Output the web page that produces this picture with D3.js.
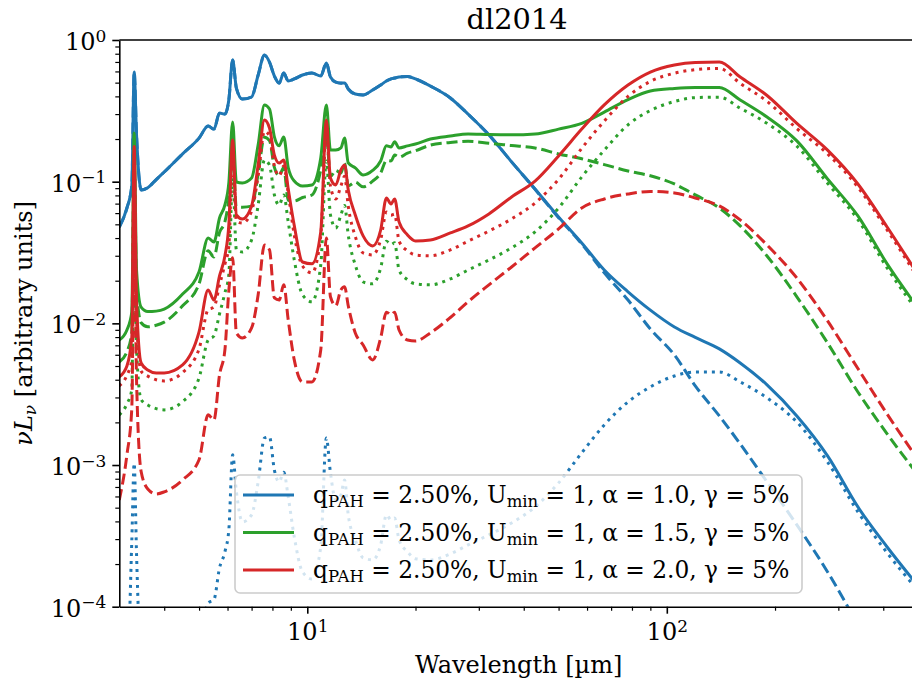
<!DOCTYPE html>
<html><head><meta charset="utf-8">
<script src="https://cdn.jsdelivr.net/npm/d3@7"></script>
<style>
body{margin:0;background:#fff}
svg{display:block}
text{font-family:"DejaVu Serif",serif;fill:#000;white-space:pre}
</style>
</head><body>
<svg id="chart" width="912" height="681"></svg>
<script>
// ---- data ----
const wavelength = [3.0,3.15,3.25,3.3,3.35,3.45,3.6,3.8,4.0,4.5,5.0,5.3,5.5,5.7,5.9,6.05,6.2,6.35,6.6,7.0,7.3,7.6,7.85,8.1,8.35,8.6,8.85,9.2,9.7,10.3,10.9,11.3,11.6,12.0,12.4,12.7,13.0,13.6,14.3,15.2,16.0,16.6,17.1,17.5,18.0,19,20,22,25,28,32,37,43,50,58,67,78,90,105,120,140,160,190,230,280,340,410,500];

const blueTotal = [0.0479,0.0652,0.0932,0.594,0.214,0.0874,0.0907,0.1035,0.117,0.157,0.203,0.247,0.235,0.305,0.300,0.377,0.723,0.458,0.383,0.396,0.566,0.784,0.699,0.557,0.497,0.585,0.514,0.531,0.566,0.585,0.557,0.688,0.548,0.505,0.497,0.497,0.451,0.416,0.409,0.444,0.481,0.514,0.531,0.539,0.548,0.553,0.531,0.473,0.390,0.300,0.214,0.138,0.0888,0.0564,0.0369,0.0238,0.0167,0.0124,0.00943,0.00795,0.0066,0.00525,0.00368,0.00222,0.00116,5.06e-4,2.64e-4,1.4e-4];
const blueDashed = [0.0479,0.0652,0.0932,0.593,0.214,0.0874,0.0907,0.1035,0.117,0.157,0.203,0.247,0.235,0.305,0.300,0.377,0.722,0.457,0.383,0.396,0.565,0.782,0.697,0.556,0.496,0.584,0.513,0.531,0.566,0.585,0.557,0.686,0.547,0.504,0.496,0.496,0.451,0.416,0.409,0.444,0.481,0.514,0.531,0.539,0.548,0.553,0.531,0.473,0.390,0.300,0.214,0.138,0.0883,0.0556,0.0363,0.0227,0.0146,0.00913,0.00598,0.00362,0.00222,0.00141,7.6e-4,3.78e-4,1.76e-4,7.44e-5,3.04e-5,1.25e-5];
const blueDotted = [2e-5,3e-5,2.91e-4,1.03e-3,2.36e-4,4.08e-5,3.2e-5,2.81e-5,2.72e-5,3.2e-5,5.83e-5,1.06e-4,1.12e-4,1.88e-4,2.44e-4,3.48e-4,1.18e-3,6.5e-4,3.97e-4,4.45e-4,7.6e-4,1.55e-3,1.58e-3,9.2e-4,7.6e-4,8.9e-4,5.96e-4,3.11e-4,1.76e-4,1.57e-4,2.64e-4,1.55e-3,8.8e-4,5.67e-4,6.15e-4,7.85e-4,4.45e-4,2.96e-4,2.21e-4,2.14e-4,2.73e-4,4.45e-4,4.1e-4,4.23e-4,2.96e-4,2.44e-4,2.18e-4,2.14e-4,2.36e-4,2.73e-4,3.21e-4,3.9e-4,5.06e-4,7.48e-4,1.22e-3,1.92e-3,2.79e-3,3.56e-3,4.25e-3,4.54e-3,4.54e-3,3.86e-3,2.98e-3,2.01e-3,1.05e-3,4.67e-4,2.4e-4,1.3e-4];

const greenTotal = [7.63e-3,8.98e-3,0.012,0.221,0.0238,0.013,0.0121,0.0122,0.0126,0.0161,0.0231,0.0401,0.0375,0.0554,0.0685,0.0979,0.264,0.0995,0.0979,0.106,0.182,0.348,0.326,0.207,0.179,0.207,0.126,0.101,0.0932,0.0948,0.147,0.348,0.167,0.167,0.173,0.203,0.1355,0.125,0.1115,0.120,0.140,0.179,0.176,0.191,0.173,0.179,0.1845,0.200,0.210,0.217,0.215,0.214,0.217,0.235,0.258,0.31,0.38,0.437,0.455,0.462,0.462,0.377,0.286,0.194,0.1045,0.0573,0.0263,0.0128];
const greenDashed = [5.34e-3,6.3e-3,8.6e-3,0.14,0.0172,0.0101,0.00945,0.0097,0.0102,0.0133,0.019,0.0325,0.0294,0.0438,0.0521,0.0759,0.158,0.0665,0.066,0.0672,0.1135,0.206,0.195,0.126,0.11,0.126,0.074,0.073,0.0773,0.0806,0.121,0.208,0.109,0.12,0.115,0.135,0.0935,0.0992,0.0919,0.101,0.115,0.141,0.14,0.154,0.149,0.159,0.1655,0.181,0.189,0.193,0.187,0.18,0.173,0.157,0.145,0.132,0.119,0.110,0.0963,0.0806,0.0652,0.0487,0.0299,0.0154,7.27e-3,3.28e-3,1.66e-3,8.5e-4];
const greenDotted = [2.26e-3,2.7e-3,3.4e-3,0.081,6.6e-3,2.9e-3,2.65e-3,2.5e-3,2.45e-3,2.8e-3,4.12e-3,7.63e-3,8.15e-3,0.01165,0.0164,0.022,0.106,0.033,0.0319,0.0388,0.0685,0.142,0.131,0.0806,0.0685,0.0806,0.052,0.028,0.0159,0.0142,0.0258,0.140,0.0582,0.0471,0.058,0.068,0.042,0.0258,0.0196,0.019,0.0246,0.038,0.036,0.037,0.0238,0.0203,0.019,0.0187,0.0206,0.0238,0.028,0.0341,0.0442,0.0652,0.108,0.167,0.252,0.318,0.368,0.392,0.395,0.33,0.258,0.178,0.0975,0.054,0.0246,0.0120];

const redTotal = [4.19e-3,5.0e-3,8.0e-3,0.177,0.0146,5.25e-3,4.69e-3,4.47e-3,4.47e-3,5.09e-3,8.7e-3,0.0172,0.0146,0.0216,0.0299,0.0495,0.197,0.0582,0.0546,0.0674,0.131,0.2725,0.239,0.154,0.1355,0.142,0.089,0.049,0.0271,0.0263,0.0442,0.2725,0.106,0.0948,0.121,0.131,0.0874,0.0582,0.0414,0.0352,0.0456,0.0767,0.0696,0.0755,0.052,0.0421,0.0382,0.0388,0.0435,0.0487,0.0592,0.078,0.101,0.152,0.235,0.348,0.481,0.594,0.666,0.694,0.699,0.548,0.406,0.2575,0.167,0.0963,0.0479,0.022];
const redDashed = [5.67e-4,1.18e-3,2.5e-3,0.045,4.0e-3,9e-4,6.78e-4,6.25e-4,6.46e-4,7.85e-4,1.09e-3,2.26e-3,2.08e-3,4.32e-3,6.49e-3,0.017,0.029,8.56e-3,7.89e-3,9.28e-3,0.0159,0.0357,0.033,0.0151,0.0146,0.0187,0.0106,5.52e-3,3.86e-3,3.86e-3,6.49e-3,0.0401,0.0154,0.0133,0.0172,0.0181,0.0133,8.56e-3,7.04e-3,5.52e-3,7.89e-3,0.012,0.0115,0.012,8.98e-3,7.63e-3,7.51e-3,8.56e-3,0.011,0.0142,0.0187,0.025,0.0341,0.0464,0.0652,0.0755,0.0819,0.0853,0.0832,0.0767,0.0674,0.0537,0.0357,0.0209,0.0104,4.8e-3,2.29e-3,1.09e-3];
const redDotted = [3.62e-3,4.3e-3,5.5e-3,0.13,0.0106,4.6e-3,4.24e-3,4.0e-3,3.92e-3,4.5e-3,6.6e-3,0.0125,0.013,0.0186,0.0262,0.035,0.17,0.053,0.051,0.062,0.11,0.227,0.21,0.129,0.11,0.129,0.083,0.042,0.0254,0.0227,0.0413,0.224,0.093,0.0754,0.093,0.109,0.067,0.041,0.0314,0.0304,0.039,0.061,0.058,0.059,0.038,0.0325,0.0304,0.030,0.033,0.038,0.0448,0.0546,0.0707,0.104,0.172,0.268,0.40,0.51,0.583,0.617,0.63,0.494,0.369,0.237,0.157,0.0915,0.0456,0.0209];

const seriesColors = ["#1f77b4","#2ca02c","#d62728"];
const alphaLabels = ["1.0","1.5","2.0"];
const yMajorTicks = [1e-4,1e-3,1e-2,1e-1,1];
const xMajorTicks = [10,100];

// ---- layout ----
const W = 912, H = 681;
const L = 119.3, T = 40, B = 606.7, R = 918.1;
const svg = d3.select("#chart");
svg.append("rect").attr("width",W).attr("height",H).attr("fill","#fff");

const x = d3.scaleLog().domain([3,500]).range([L,R]);
const y = d3.scaleLog().domain([1e-4,1]).range([B,T]);

svg.append("defs").append("clipPath").attr("id","plotclip")
  .append("rect").attr("x",L).attr("y",T).attr("width",R-L).attr("height",B-T);

const models = [
  {color:seriesColors[0], total:blueTotal, dashed:blueDashed, dotted:blueDotted, alpha:alphaLabels[0]},
  {color:seriesColors[1], total:greenTotal, dashed:greenDashed, dotted:greenDotted, alpha:alphaLabels[1]},
  {color:seriesColors[2], total:redTotal, dashed:redDashed, dotted:redDotted, alpha:alphaLabels[2]}
];
models.forEach(m => ["total","dashed","dotted"].forEach(k => {
  if (m[k].length !== wavelength.length) throw new Error("length mismatch " + m.color + " " + k + " " + m[k].length);
}));

const line = d3.line()
  .x((d,i) => x(wavelength[i]))
  .y(d => y(d))
  .curve(d3.curveMonotoneX);

const plot = svg.append("g").attr("clip-path","url(#plotclip)");
const styles = {total:null, dashed:"11.1,4.8", dotted:"3,4.95"};
models.forEach(m => {
  ["total","dashed","dotted"].forEach(k => {
    plot.append("path")
      .datum(m[k])
      .attr("d", line)
      .attr("fill","none")
      .attr("stroke", m.color)
      .attr("stroke-width", 3)
      .attr("stroke-linejoin","round")
      .attr("stroke-dasharray", styles[k]);
  });
});

// ---- axes ----
function expLabel(sel){
  sel.each(function(d){
    const t = d3.select(this);
    const e = Math.round(Math.log10(d));
    t.text(null);
    t.append("tspan").text("10");
    t.append("tspan").attr("dy",-8.5).attr("font-size",17).text(e < 0 ? "\u2212" + (-e) : String(e));
  });
}

const yMinor = [];
for (let k = -4; k < 0; k++) for (let m = 2; m <= 9; m++) yMinor.push(m * Math.pow(10,k));
const xMinor = [4,5,6,7,8,9,20,30,40,50,60,70,80,90,200,300,400,500];

const yMinorG = svg.append("g").attr("transform",`translate(${L},0)`)
  .call(d3.axisLeft(y).tickValues(yMinor).tickSize(4).tickSizeOuter(0).tickFormat(""));
yMinorG.select(".domain").remove();
yMinorG.selectAll("line").attr("stroke-width",1.2).attr("stroke","#000");

const xMinorG = svg.append("g").attr("transform",`translate(0,${B})`)
  .call(d3.axisBottom(x).tickValues(xMinor).tickSize(4).tickSizeOuter(0).tickFormat(""));
xMinorG.select(".domain").remove();
xMinorG.selectAll("line").attr("stroke-width",1.2).attr("stroke","#000");

const yAxisG = svg.append("g").attr("transform",`translate(${L},0)`)
  .call(d3.axisLeft(y).tickValues(yMajorTicks).tickSize(7).tickSizeOuter(0).tickPadding(7).tickFormat(d => d));
yAxisG.attr("font-size",24).attr("font-family","DejaVu Serif");
yAxisG.select(".domain").attr("stroke-width",1.6).attr("stroke","#000");
yAxisG.selectAll(".tick line").attr("stroke-width",1.6).attr("stroke","#000");
yAxisG.selectAll(".tick text").attr("dy",9.5).attr("x",-13).call(expLabel);

const xAxisG = svg.append("g").attr("transform",`translate(0,${B})`)
  .call(d3.axisBottom(x).tickValues(xMajorTicks).tickSize(7).tickSizeOuter(0).tickPadding(7).tickFormat(d => d));
xAxisG.attr("font-size",24).attr("font-family","DejaVu Serif");
xAxisG.select(".domain").attr("stroke-width",1.6).attr("stroke","#000");
xAxisG.selectAll(".tick line").attr("stroke-width",1.6).attr("stroke","#000");
xAxisG.selectAll(".tick text").attr("dy",19.5).call(expLabel);

// top spine
svg.append("line").attr("x1",L).attr("x2",R).attr("y1",T).attr("y2",T)
  .attr("stroke","#000").attr("stroke-width",1.6);

// ---- labels ----
svg.append("text").attr("x",517).attr("y",28.5).attr("text-anchor","middle")
  .attr("font-size",28.8).text("dl2014");

svg.append("text").attr("x",(L+R)/2).attr("y",673).attr("text-anchor","middle")
  .attr("font-size",24).text("Wavelength [\u00b5m]");

const yl = svg.append("text").attr("transform",`translate(32,${(T+B)/2}) rotate(-90)`)
  .attr("text-anchor","middle").attr("font-size",24);
yl.append("tspan").attr("font-style","italic").text("\u03bdL");
yl.append("tspan").attr("font-style","italic").attr("font-size",17).attr("dy",4).text("\u03bd");
yl.append("tspan").attr("dy",-4).text(" [arbitrary units]");

// ---- legend ----
const lg = svg.append("g");
lg.append("rect").attr("x",235).attr("y",475).attr("width",567).attr("height",118)
  .attr("rx",5).attr("fill","#fff").attr("fill-opacity",0.8)
  .attr("stroke","#cccccc").attr("stroke-width",1.6);
const rowY = [495,532.5,570];
models.forEach((m,i) => {
  lg.append("line").attr("x1",243).attr("x2",294).attr("y1",rowY[i]).attr("y2",rowY[i])
    .attr("stroke",m.color).attr("stroke-width",3);
  const t = lg.append("text").attr("x",313).attr("y",rowY[i]+8).attr("font-size",23.3);
  t.append("tspan").text("q");
  t.append("tspan").attr("dy",4).attr("font-size",16.5).text("PAH");
  t.append("tspan").attr("dy",-4).text(" = 2.50%, U");
  t.append("tspan").attr("dy",4).attr("font-size",16.5).text("min");
  t.append("tspan").attr("dy",-4).text(` = 1, \u03b1 = ${m.alpha}, \u03b3 = 5%`);
});
</script>
</body></html>
